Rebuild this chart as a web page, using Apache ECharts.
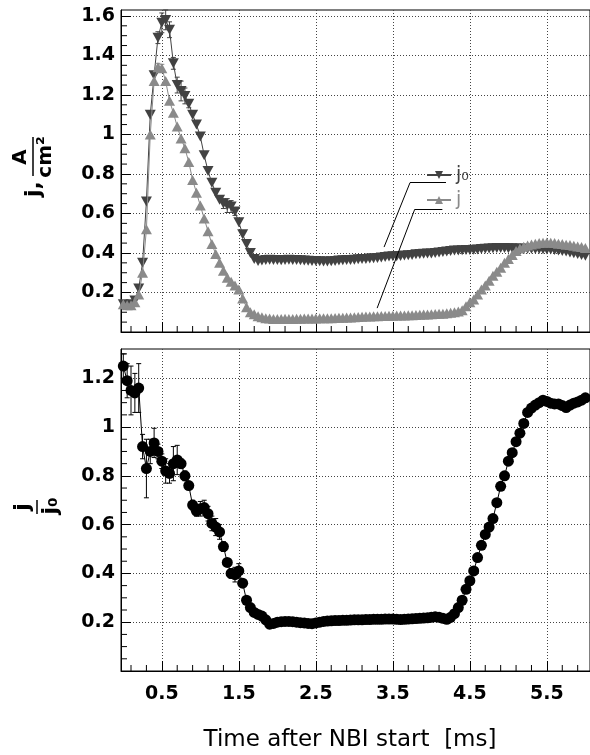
<!DOCTYPE html>
<html><head><meta charset="utf-8">
<script src="https://cdn.jsdelivr.net/npm/echarts@6/dist/echarts.min.js"></script>
<style>html,body{margin:0;padding:0;background:#fff}#c{width:590px;height:755px}</style>
</head><body><div id="c"></div>
<script>
// ---------------- data ----------------
const TIME = [
 0.00,0.05,0.10,0.15,0.20,0.25,0.30,0.35,0.40,0.45,
 0.50,0.55,0.60,0.65,0.70,0.75,0.80,0.85,0.90,0.95,
 1.00,1.05,1.10,1.15,1.20,1.25,1.30,1.35,1.40,1.45,
 1.50,1.55,1.60,1.65,1.70,1.75,1.80,1.85,1.90,1.95,
 2.00,2.05,2.10,2.15,2.20,2.25,2.30,2.35,2.40,2.45,
 2.50,2.55,2.60,2.65,2.70,2.75,2.80,2.85,2.90,2.95,
 3.00,3.05,3.10,3.15,3.20,3.25,3.30,3.35,3.40,3.45,
 3.50,3.55,3.60,3.65,3.70,3.75,3.80,3.85,3.90,3.95,
 4.00,4.05,4.10,4.15,4.20,4.25,4.30,4.35,4.40,4.45,
 4.50,4.55,4.60,4.65,4.70,4.75,4.80,4.85,4.90,4.95,
 5.00,5.05,5.10,5.15,5.20,5.25,5.30,5.35,5.40,5.45,
 5.50,5.55,5.60,5.65,5.70,5.75,5.80,5.85,5.90,5.95,
 6.00];
const J0 = [
 0.14,0.135,0.14,0.16,0.22,0.35,0.66,1.10,1.30,1.49,
 1.565,1.58,1.53,1.36,1.25,1.22,1.195,1.155,1.10,1.05,
 0.99,0.895,0.815,0.755,0.705,0.67,0.65,0.64,0.635,0.61,
 0.555,0.495,0.445,0.40,0.37,0.36,0.362,0.365,0.366,0.365,
 0.364,0.363,0.365,0.366,0.365,0.364,0.363,0.362,0.361,0.36,
 0.36,0.358,0.357,0.357,0.358,0.36,0.362,0.363,0.364,0.365,
 0.366,0.368,0.369,0.37,0.372,0.373,0.374,0.377,0.38,0.382,
 0.383,0.384,0.385,0.387,0.388,0.39,0.393,0.395,0.396,0.397,
 0.398,0.40,0.403,0.405,0.407,0.41,0.412,0.413,0.414,0.415,
 0.415,0.416,0.418,0.42,0.422,0.423,0.424,0.425,0.425,0.425,
 0.424,0.424,0.423,0.423,0.422,0.422,0.421,0.42,0.42,0.419,
 0.418,0.417,0.415,0.413,0.41,0.407,0.403,0.399,0.395,0.39,
 0.386];
const J = [
 0.14,0.135,0.135,0.15,0.19,0.30,0.52,1.00,1.27,1.34,
 1.335,1.27,1.17,1.11,1.04,0.98,0.93,0.86,0.77,0.705,
 0.64,0.575,0.51,0.445,0.395,0.35,0.31,0.275,0.255,0.235,
 0.215,0.17,0.125,0.10,0.09,0.08,0.075,0.07,0.068,0.066,
 0.066,0.066,0.067,0.066,0.066,0.067,0.067,0.068,0.068,0.068,
 0.068,0.069,0.069,0.07,0.07,0.071,0.072,0.072,0.073,0.074,
 0.075,0.076,0.077,0.078,0.079,0.08,0.08,0.081,0.081,0.082,
 0.082,0.083,0.083,0.084,0.085,0.085,0.086,0.087,0.088,0.089,
 0.09,0.091,0.092,0.093,0.095,0.097,0.10,0.104,0.11,0.13,
 0.15,0.165,0.19,0.215,0.235,0.26,0.285,0.305,0.325,0.35,
 0.37,0.39,0.41,0.423,0.432,0.438,0.443,0.447,0.45,0.452,
 0.453,0.452,0.45,0.447,0.445,0.442,0.44,0.437,0.433,0.43,
 0.425];
const RATIO = [
 1.25,1.19,1.15,1.14,1.16,0.92,0.83,0.90,0.935,0.90,
 0.86,0.82,0.81,0.85,0.865,0.85,0.80,0.76,0.68,0.655,
 0.665,0.67,0.645,0.605,0.59,0.57,0.51,0.445,0.40,0.395,
 0.41,0.36,0.29,0.26,0.24,0.232,0.225,0.21,0.192,0.195,
 0.20,0.202,0.203,0.203,0.202,0.20,0.198,0.197,0.195,0.194,
 0.197,0.20,0.203,0.205,0.206,0.207,0.207,0.208,0.208,0.209,
 0.21,0.21,0.21,0.211,0.211,0.212,0.212,0.212,0.213,0.213,
 0.213,0.212,0.211,0.212,0.213,0.214,0.215,0.216,0.217,0.218,
 0.22,0.222,0.22,0.216,0.212,0.22,0.235,0.26,0.29,0.335,
 0.37,0.41,0.465,0.515,0.56,0.59,0.625,0.69,0.757,0.80,
 0.86,0.895,0.94,0.975,1.015,1.06,1.078,1.09,1.10,1.11,
 1.105,1.098,1.095,1.095,1.088,1.08,1.09,1.098,1.103,1.11,
 1.12];
const J0_ERR = [
 0,0,0,0,0,0,0,0,0,0.03,
 0.05,0.05,0.04,0.03,0.04,0.05,0.04,0.02,0,0,
 0,0,0,0,0,0,0.025,0.035,0.03,0.02,
 0,0,0,0,0,0,0,0,0,0,
 0,0,0,0,0,0,0,0,0,0, 0,0,0,0,0,0,0,0,0,0,
 0,0,0,0,0,0,0,0,0,0, 0,0,0,0,0,0,0,0,0,0,
 0,0,0,0,0,0,0,0,0,0, 0,0,0,0,0,0,0,0,0,0,
 0,0,0,0,0,0,0,0,0,0, 0,0,0,0,0,0,0,0,0,0,
 0];
const J_ERR = [
 0,0,0,0,0,0,0,0,0,0.02,
 0.02,0,0,0,0,0,0,0,0,0,
 0,0,0,0,0,0,0,0,0,0, 0,0,0,0,0,0,0,0,0,0,
 0,0,0,0,0,0,0,0,0,0, 0,0,0,0,0,0,0,0,0,0,
 0,0,0,0,0,0,0,0,0,0, 0,0,0,0,0,0,0,0,0,0,
 0,0,0,0,0,0,0,0,0,0, 0,0,0,0,0,0,0,0,0,0,
 0,0,0,0,0,0,0,0,0,0, 0,0,0,0,0,0,0,0,0,0,
 0];
const RATIO_ERR = [
 0.05,0.07,0.1,0.08,0.1,0.05,0.12,0.05,0.06,0.03,
 0.03,0.05,0.04,0.07,0.06,0.02,0.02,0.015,0.02,0.02,
 0.03,0.03,0.03,0.03,0.035,0.03,0.02,0.015,0.02,0.03,
 0.03,0.01,0,0,0,0,0,0,0,0,
 0,0,0,0,0,0,0,0,0,0, 0,0,0,0,0,0,0,0,0,0,
 0,0,0,0,0,0,0,0,0,0, 0,0,0,0,0,0,0,0,0,0,
 0,0,0,0,0,0,0,0,0,0, 0,0,0,0,0,0,0,0,0,0,
 0,0,0,0,0,0,0,0,0,0, 0,0,0,0,0,0,0,0,0,0,
 0];
const X_MAJOR = [0.5,1.5,2.5,3.5,4.5,5.5];
const X_MINOR = [0.1,0.3,0.7,0.9,1.1,1.3,1.7,1.9,2.1,2.3,2.7,2.9,3.1,3.3,3.7,3.9,4.1,4.3,4.7,4.9,5.1,5.3,5.7,5.9];
const Y_TOP_MAJOR = [0.2,0.4,0.6,0.8,1,1.2,1.4,1.6];
const Y_TOP_MINOR = [0.05,0.1,0.15,0.25,0.3,0.35,0.45,0.5,0.55,0.65,0.7,0.75,0.85,0.9,0.95,1.05,1.1,1.15,1.25,1.3,1.35,1.45,1.5,1.55];
const Y_BOT_MAJOR = [0.2,0.4,0.6,0.8,1,1.2];
const Y_BOT_MINOR = [0.05,0.1,0.15,0.25,0.3,0.35,0.45,0.5,0.55,0.65,0.7,0.75,0.85,0.9,0.95,1.05,1.1,1.15,1.25,1.3];
// leader lines from legend to curves (data coordinates)
const LEAD_J0 = [[4.19,0.756],[3.723,0.756],[3.386,0.430]];
const LEAD_J  = [[4.143,0.621],[3.784,0.621],[3.296,0.121]];

const XMIN = -0.03, XMAX = 6.06;
const YTOP_MAX = 1.63, YBOT_MAX = 1.32;
const C_J0 = '#424242', C_J = '#8a8a8a', C_R = '#000000';
const FONT = 'DejaVu Sans';

// ---------------- helpers ----------------
function zip3(a,b,c){ return a.map((t,i)=>[t,b[i],c?c[i]:0]); }
function errRender(color){
  return function(params, api){
    const x=api.value(0), y=api.value(1), e=api.value(2);
    if(!(e>0)) return null;
    const lo=api.coord([x,y-e]), hi=api.coord([x,y+e]); const w=2.5;
    const st={stroke:color,lineWidth:1};
    return {type:'group',children:[
      {type:'line',shape:{x1:lo[0],y1:lo[1],x2:hi[0],y2:hi[1]},style:st},
      {type:'line',shape:{x1:lo[0]-w,y1:lo[1],x2:lo[0]+w,y2:lo[1]},style:st},
      {type:'line',shape:{x1:hi[0]-w,y1:hi[1],x2:hi[0]+w,y2:hi[1]},style:st}]};
  };
}
function xTick(len){
  return function(params, api){
    const p=api.coord([api.value(0),api.value(1)]); const cs=params.coordSys; const yb=cs.y+cs.height;
    return {type:'line',shape:{x1:p[0],y1:yb,x2:p[0],y2:yb-len},style:{stroke:'#000',lineWidth:1}};
  };
}
function yTick(len){
  return function(params, api){
    const p=api.coord([api.value(0),api.value(1)]); const cs=params.coordSys;
    return {type:'line',shape:{x1:cs.x,y1:p[1],x2:cs.x+len,y2:p[1]},style:{stroke:'#000',lineWidth:1}};
  };
}
function leadPairs(pts){
  const out=[]; for(let i=0;i<pts.length-1;i++) out.push([{coord:pts[i]},{coord:pts[i+1]}]); return out;
}
const gridLine = {show:true,lineStyle:{color:'#444',width:1,type:[1,2]}};
function xAxisCfg(gi, labels){
  return {gridIndex:gi,type:'value',min:XMIN,max:XMAX,
    axisLine:{show:true,onZero:false,lineStyle:{color:'#000',width:1}},
    axisTick:{show:true,inside:true,length:10,customValues:X_MAJOR,lineStyle:{color:'#000',width:1}},
    axisLabel:labels?{show:true,customValues:X_MAJOR,fontFamily:FONT,fontWeight:'bold',fontSize:19,color:'#000',margin:14}:{show:false},
    splitLine:gridLine};
}
function yAxisCfg(gi, max, major){
  return {gridIndex:gi,type:'value',min:0,max:max,
    axisLine:{show:true,onZero:false,lineStyle:{color:'#000',width:1}},
    axisTick:{show:true,inside:true,length:10,customValues:major,lineStyle:{color:'#000',width:1}},
    axisLabel:{show:true,customValues:major,fontFamily:FONT,fontWeight:'bold',fontSize:19,color:'#000',margin:6},
    splitLine:gridLine};
}

const downTri='path://M0,0L10,0L5,9Z', upTri='path://M5,0L10,9L0,9Z';

const chart = echarts.init(document.getElementById('c'), null, {renderer:'canvas'});
const xb = xAxisCfg(1,true);
xb.name='Time after NBI start  [ms]'; xb.nameLocation='middle'; xb.nameGap=58;
xb.nameTextStyle={fontFamily:FONT,fontSize:23,color:'#000',padding:[0,11,0,0],lineHeight:23};

chart.setOption({
  animation:false,
  backgroundColor:'#fff',
  grid:[
    {left:121,top:10,width:474,height:322,show:true,borderColor:'#000',borderWidth:1,backgroundColor:'transparent'},
    {left:121,top:349,width:474,height:322,show:true,borderColor:'#000',borderWidth:1,backgroundColor:'transparent'}
  ],
  xAxis:[xAxisCfg(0,false), xb],
  yAxis:[yAxisCfg(0,YTOP_MAX,Y_TOP_MAJOR), yAxisCfg(1,YBOT_MAX,Y_BOT_MAJOR)],
  legend:{show:true,orient:'vertical',left:426,top:165,padding:0,itemGap:5,itemWidth:24,itemHeight:10,
    selectedMode:false,
    data:[{name:'j₀',textStyle:{color:C_J0}},{name:'j',textStyle:{color:C_J}}],
    textStyle:{fontFamily:FONT,fontSize:19,lineHeight:20}},
  graphic:[
    {type:'group',x:33,y:200,rotation:Math.PI/2,children:[
      {type:'text',x:11,y:1,style:{text:'j,',font:'bold 22px "DejaVu Sans"',fill:'#000',align:'center',verticalAlign:'middle'}},
      {type:'text',x:43,y:-12,style:{text:'A',font:'bold 20px "DejaVu Sans"',fill:'#000',align:'center',verticalAlign:'middle'}},
      {type:'line',shape:{x1:24,y1:0,x2:63,y2:0},style:{stroke:'#000',lineWidth:1.5}},
      {type:'text',x:43,y:13,style:{text:'cm²',font:'bold 20px "DejaVu Sans"',fill:'#000',align:'center',verticalAlign:'middle'}}
    ]},
    {type:'group',x:37,y:507,rotation:Math.PI/2,children:[
      {type:'text',x:0,y:-14,style:{text:'j',font:'bold 22px "DejaVu Sans"',fill:'#000',align:'center',verticalAlign:'middle'}},
      {type:'line',shape:{x1:-7,y1:0,x2:7,y2:0},style:{stroke:'#000',lineWidth:1.5}},
      {type:'text',x:1,y:14,style:{text:'j₀',font:'bold 22px "DejaVu Sans"',fill:'#000',align:'center',verticalAlign:'middle'}}
    ]}
  ],
  series:[
    {name:'j₀',type:'line',xAxisIndex:0,yAxisIndex:0,data:zip3(TIME,J0).map(d=>[d[0],d[1]]),
      symbol:downTri,symbolSize:[11,10],itemStyle:{color:C_J0},lineStyle:{color:C_J0,width:1},z:2},
    {name:'j',type:'line',xAxisIndex:0,yAxisIndex:0,data:zip3(TIME,J).map(d=>[d[0],d[1]]),
      symbol:upTri,symbolSize:[11,10],itemStyle:{color:C_J},lineStyle:{color:C_J,width:1},z:3,
      markLine:{silent:true,symbol:['none','none'],label:{show:false},lineStyle:{color:'#000',width:1,type:'solid'},
        emphasis:{disabled:true},data:leadPairs(LEAD_J0).concat(leadPairs(LEAD_J))}},
    {type:'custom',xAxisIndex:0,yAxisIndex:0,data:zip3(TIME,J0,J0_ERR),renderItem:errRender(C_J0),encode:{x:0,y:1},z:4,silent:true},
    {type:'custom',xAxisIndex:0,yAxisIndex:0,data:zip3(TIME,J,J_ERR),renderItem:errRender(C_J),encode:{x:0,y:1},z:4,silent:true},
    {name:'ratio',type:'line',xAxisIndex:1,yAxisIndex:1,data:zip3(TIME,RATIO).map(d=>[d[0],d[1]]),
      symbol:'circle',symbolSize:11,itemStyle:{color:C_R},lineStyle:{color:C_R,width:1},z:2},
    {type:'custom',xAxisIndex:1,yAxisIndex:1,data:zip3(TIME,RATIO,RATIO_ERR),renderItem:errRender(C_R),encode:{x:0,y:1},z:4,silent:true},
    {type:'custom',xAxisIndex:0,yAxisIndex:0,data:X_MINOR.map(v=>[v,0]),renderItem:xTick(6),encode:{x:0,y:1},silent:true},
    {type:'custom',xAxisIndex:1,yAxisIndex:1,data:X_MINOR.map(v=>[v,0]),renderItem:xTick(6),encode:{x:0,y:1},silent:true},
    {type:'custom',xAxisIndex:0,yAxisIndex:0,data:Y_TOP_MINOR.map(v=>[XMIN,v]),renderItem:yTick(6),encode:{x:0,y:1},silent:true},
    {type:'custom',xAxisIndex:1,yAxisIndex:1,data:Y_BOT_MINOR.map(v=>[XMIN,v]),renderItem:yTick(6),encode:{x:0,y:1},silent:true}
  ]
});
</script></body></html>
